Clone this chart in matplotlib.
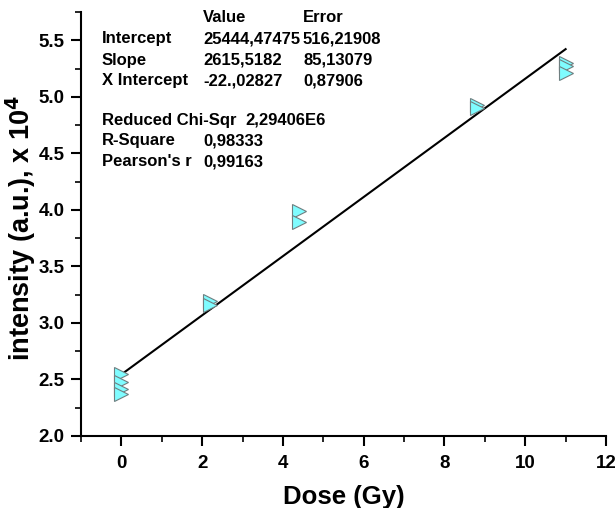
import numpy as np
import matplotlib.pyplot as plt
from matplotlib.ticker import MultipleLocator

plt.rcParams['font.family'] = ['Liberation Sans', 'DejaVu Sans']
plt.rcParams['font.weight'] = 'bold'

# data
dose = [0, 0, 0, 0, 2.2, 2.2, 4.4, 4.4, 8.8, 8.8, 11, 11, 11]
intensity = [2.55, 2.48, 2.42, 2.37, 3.19, 3.16, 3.99, 3.89, 4.93, 4.90, 5.30, 5.27, 5.21]

intercept = 2.544447475  # x 10^4
slope = 0.26155182

rows = ["Intercept", "Slope", "X Intercept"]
values = ["25444,47475", "2615,5182", "-22.,02827"]
errors = ["516,21908", "85,13079", "0,87906"]
stats = ["Reduced Chi-Sqr", "R-Square", "Pearson's r"]
stat_vals = ["2,29406E6", "0,98333", "0,99163"]

W, H = 616, 508
fig = plt.figure(figsize=(W / 100, H / 100), dpi=100)
ax = fig.add_axes([81 / W, 1 - 436 / H, (606 - 81) / W, (436 - 12) / H])

xfit = np.array([0, 11])
ax.plot(xfit, intercept + slope * xfit, color='black', lw=1.5, zorder=2)
ax.plot(dose, intensity, ls='none', marker='>', ms=10, mfc='#7ffcff',
        mec='#6f7f80', mew=0.8, zorder=3)

ax.set_xlim(-1, 12)
ax.set_ylim(2.0, 5.75)
ax.xaxis.set_major_locator(MultipleLocator(2))
ax.xaxis.set_minor_locator(MultipleLocator(1))
ax.yaxis.set_major_locator(MultipleLocator(0.5))
ax.yaxis.set_minor_locator(MultipleLocator(0.25))
ax.spines['top'].set_visible(False)
ax.spines['right'].set_visible(False)
for s in ['left', 'bottom']:
    ax.spines[s].set_linewidth(1.5)
ax.tick_params(which='major', direction='out', length=7, width=1.5, labelsize=13.5, pad=5)
ax.tick_params(which='minor', direction='out', length=4, width=1.2)
ax.tick_params(axis='x', pad=7)
for lab in ax.get_xticklabels() + ax.get_yticklabels():
    lab.set_fontweight('bold')

ax.set_xlabel("Dose (Gy)", fontsize=18.5, fontweight='bold', labelpad=9)
ax.set_ylabel("intensity (a.u.), x 10$^{\\mathbf{4}}$", fontsize=19.5, fontweight='bold',
              va='center')
ax.yaxis.set_label_coords((21 - 81) / 525, 0.49)

def ftext(x, y, s):
    fig.text(x / W, 1 - y / H, s, fontsize=12, fontweight='bold', va='center', ha='left')

ftext(203, 17, "Value")
ftext(303, 17, "Error")
for i, r in enumerate(rows):
    y = 39 + i * 21
    ftext(102, y, r)
    ftext(203, y, values[i])
    ftext(303, y, errors[i])
for i, r in enumerate(stats):
    y = 120 + i * 21
    ftext(102, y, r)
    ftext(203 if i else 245, y, stat_vals[i])

fig.savefig("out.png", dpi=100)
